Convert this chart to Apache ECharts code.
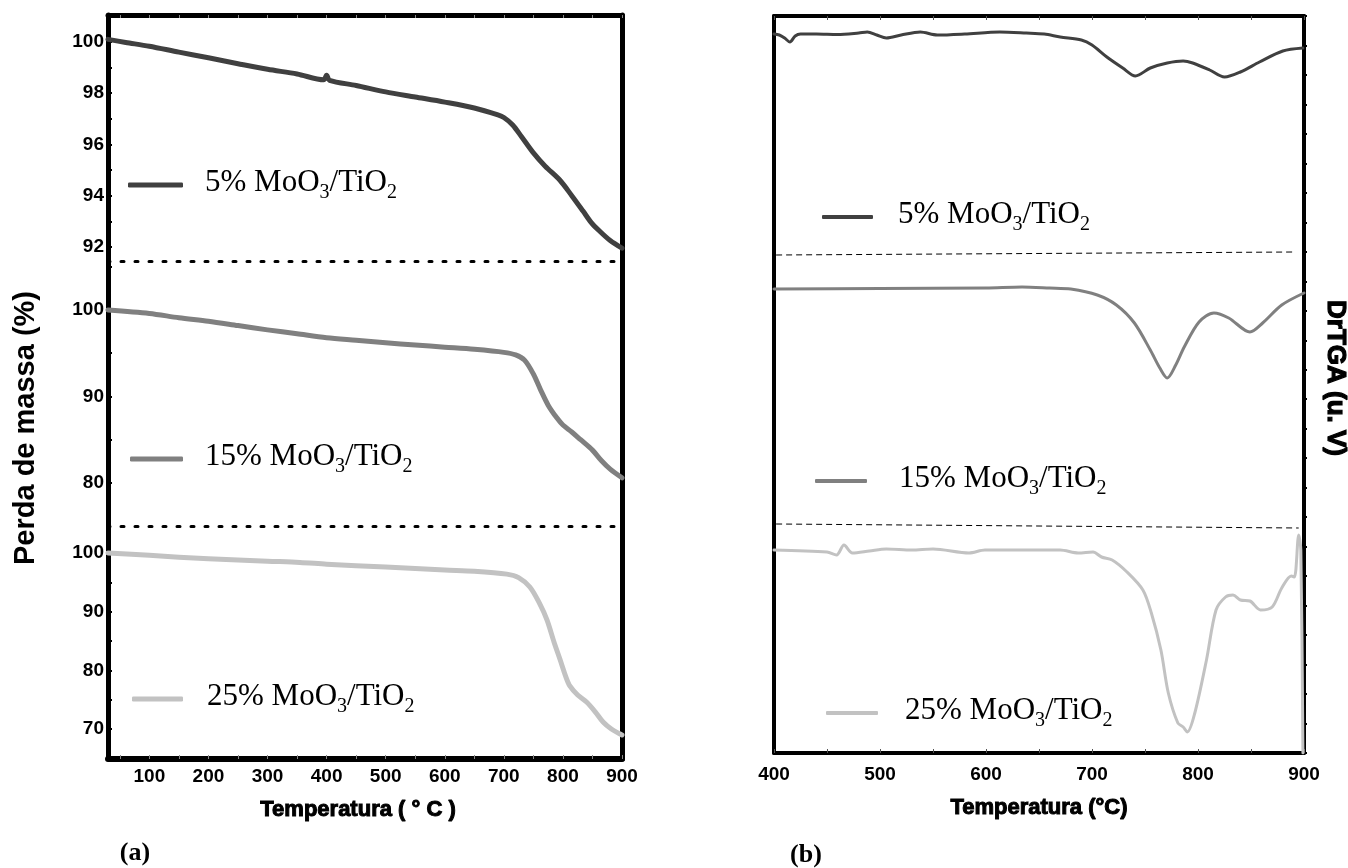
<!DOCTYPE html>
<html>
<head>
<meta charset="utf-8">
<script src="https://cdn.jsdelivr.net/npm/echarts@6/dist/echarts.min.js"></script>
<style>
html, body { margin: 0; padding: 0; background: #fff; }
#chart { width: 1348px; height: 868px; }
</style>
</head>
<body>
<div id="chart"></div>
<script>
// ---- TG curves: mass (%) vs temperature (°C) ----
const tgTemp5 = [30, 60, 100, 150, 200, 250, 300, 350, 395, 400, 405, 450, 500, 550, 600, 650, 690, 700, 715, 730, 749, 770, 795, 815, 834, 848, 862, 880, 900];
const tgMass5 = [100.1, 99.98, 99.83, 99.6, 99.38, 99.15, 98.93, 98.75, 98.52, 98.7, 98.5, 98.3, 98.05, 97.85, 97.65, 97.42, 97.15, 97.05, 96.76, 96.3, 95.7, 95.15, 94.6, 94.0, 93.4, 92.95, 92.62, 92.25, 91.95];

const tgTemp15 = [30, 100, 150, 200, 250, 300, 350, 400, 450, 500, 550, 600, 650, 700, 720, 735, 750, 762, 775, 790, 800, 815, 830, 850, 865, 880, 900];
const tgMass15 = [100.0, 99.6, 99.1, 98.7, 98.2, 97.7, 97.25, 96.8, 96.5, 96.2, 95.95, 95.7, 95.45, 95.1, 94.8, 94.2, 92.6, 90.8, 89.0, 87.5, 86.7, 85.9, 85.0, 83.8, 82.6, 81.6, 80.6];

const tgTemp25 = [30, 100, 200, 300, 355, 400, 500, 600, 650, 705, 725, 744, 760, 773, 785, 795, 805, 812, 825, 840, 855, 868, 882, 896, 900];
const tgMass25 = [100.0, 99.6, 99.0, 98.6, 98.4, 98.1, 97.6, 97.1, 96.9, 96.4, 95.8, 94.2, 91.5, 88.6, 84.8, 81.9, 78.9, 77.3, 75.8, 74.6, 72.9, 71.2, 70.0, 69.2, 69.0];

// ---- DrTGA curves (arbitrary units, baseline 0) ----
const dtTemp5 = [400, 405, 410, 415, 420, 425, 440, 460, 480, 488, 497, 506, 520, 538, 554, 580, 613, 638, 655, 670, 690, 700, 714, 729, 741, 755, 771, 786, 795, 811, 825, 840, 858, 880, 899];
const dtVal5 = [0.0, -0.1, -0.4, -0.8, -0.2, 0.0, 0.0, -0.05, 0.1, 0.2, -0.1, -0.4, -0.1, 0.2, -0.1, 0.0, 0.2, 0.1, 0.0, -0.3, -0.6, -1.1, -2.3, -3.4, -4.2, -3.4, -2.9, -2.7, -2.9, -3.6, -4.3, -3.8, -2.8, -1.7, -1.4];

const dtTemp15 = [400, 500, 600, 634, 660, 680, 705, 723, 740, 755, 764, 771, 779, 787, 801, 815, 829, 849, 861, 879, 900];
const dtVal15 = [0.0, 0.05, 0.1, 0.2, 0.1, 0.0, -0.6, -1.6, -3.4, -6.1, -7.9, -8.9, -7.6, -5.8, -3.3, -2.4, -2.9, -4.3, -3.4, -1.6, -0.4];

const dtTemp25 = [400, 450, 459, 466, 474, 490, 506, 530, 550, 584, 599, 630, 670, 687, 701, 709, 719, 733, 748, 756, 765, 772, 781, 786, 790, 797, 808, 817, 826, 833, 840, 849, 859, 870, 879, 888, 891, 895, 897, 899];
const dtVal25 = [0.0, -0.2, -0.5, 0.5, -0.3, -0.1, 0.1, 0.0, 0.1, -0.3, 0.0, 0.0, 0.0, -0.3, -0.2, -0.7, -1.0, -2.2, -4.0, -6.3, -10.0, -14.3, -17.3, -17.7, -18.2, -16.3, -11.0, -6.0, -4.7, -4.5, -5.0, -5.1, -6.0, -5.7, -3.8, -2.6, -2.7, 1.5, 0.0, -20.3];

// ---- axis ticks and labels ----
const tgTempLabels = [100, 200, 300, 400, 500, 600, 700, 800, 900];
const tgTempTicks = [50, 100, 150, 200, 250, 300, 350, 400, 450, 500, 550, 600, 650, 700, 750, 800, 850, 900];
const dtTempLabels = [400, 500, 600, 700, 800, 900];
const dtTempTicks = [400, 450, 500, 550, 600, 650, 700, 750, 800, 850, 900];
const massLabels5 = [92, 94, 96, 98, 100];
const massTicks5 = [92, 93, 94, 95, 96, 97, 98, 99, 100, 101];
const massLabels15 = [80, 90, 100];
const massTicks15 = [80, 85, 90, 95, 100, 105];
const massLabels25 = [70, 80, 90, 100];
const massTicks25 = [70, 75, 80, 85, 90, 95, 100];

const seriesNames = ['5% MoO3/TiO2', '15% MoO3/TiO2', '25% MoO3/TiO2'];
const colors = ['#404040', '#808080', '#c2c2c2'];

const pairs = (xs, ys) => xs.map((x, i) => [x, ys[i]]);

const BLACK = '#000';
const tickFont = { color: BLACK, fontFamily: 'Liberation Sans', fontWeight: 'bold', fontSize: 19 };
const heavyFont = { color: BLACK, fontFamily: 'Liberation Sans', fontWeight: 'bold', fontSize: 22, textBorderColor: BLACK, textBorderWidth: 1 };

const noAxisParts = { axisTick: { show: false }, axisLabel: { show: false }, splitLine: { show: false } };

function frameLine(width) {
  return { show: true, onZero: false, lineStyle: { color: BLACK, width: width } };
}

function legendFor(name, left, top, iconW, iconH, gap) {
  return {
    data: [name], left: left, top: top, padding: 0, orient: 'horizontal',
    selectedMode: false, icon: 'roundRect', itemWidth: iconW, itemHeight: iconH,
    formatter: n => '{g|}{n|' + n.split(' ')[0] + ' MoO}{s|3}{n|/TiO}{s|2}',
    textStyle: {
      rich: {
        g: { width: gap, lineHeight: 36 },
        n: { fontFamily: 'Liberation Serif', fontSize: 31, lineHeight: 34, verticalAlign: 'top', color: BLACK },
        s: { fontFamily: 'Liberation Serif', fontSize: 20, verticalAlign: 'bottom', color: BLACK }
      }
    }
  };
}

const grids = [
  { left: 108, top: 15, width: 514, height: 744 },   // frame (a)
  { left: 108, top: 15, width: 514, height: 246 },   // 5% TG
  { left: 108, top: 261, width: 514, height: 265 },  // 15% TG
  { left: 108, top: 526, width: 514, height: 233 },  // 25% TG
  { left: 774, top: 16, width: 530, height: 737 },   // frame (b)
  { left: 774, top: 16, width: 530, height: 244 },   // 5% DrTGA
  { left: 774, top: 260, width: 530, height: 272 },  // 15% DrTGA
  { left: 774, top: 532, width: 530, height: 221 }   // 25% DrTGA
].map(g => Object.assign({ outerBoundsMode: 'none', containLabel: false }, g));

const dottedSep = { show: true, onZero: false, lineStyle: { color: BLACK, width: 3, type: [3, 11], dashOffset: -13 } };

const xAxes = [
  { gridIndex: 0, type: 'value', min: 30, max: 900, position: 'bottom',
    axisLine: frameLine(6),
    axisTick: { show: true, inside: true, length: 4, customValues: tgTempTicks, lineStyle: { color: '#888', width: 1 } },
    axisLabel: Object.assign({ margin: 8, customValues: tgTempLabels }, tickFont),
    splitLine: { show: false },
    name: 'Temperatura ( ° C )', nameLocation: 'middle', nameGap: 40,
    nameTextStyle: Object.assign({ padding: [0, 14, 0, 0] }, heavyFont) },
  { gridIndex: 0, type: 'value', min: 30, max: 900, position: 'top',
    axisLine: frameLine(5),
    axisTick: { show: true, inside: true, length: 3, customValues: tgTempTicks, lineStyle: { color: '#888', width: 1 } },
    axisLabel: { show: false }, splitLine: { show: false } },
  Object.assign({ gridIndex: 1, type: 'value', min: 30, max: 900, position: 'bottom', axisLine: dottedSep }, noAxisParts),
  Object.assign({ gridIndex: 2, type: 'value', min: 30, max: 900, position: 'bottom', axisLine: dottedSep }, noAxisParts),
  { gridIndex: 3, type: 'value', min: 30, max: 900, show: false },
  { gridIndex: 4, type: 'value', min: 400, max: 900, position: 'bottom',
    axisLine: frameLine(4),
    axisTick: { show: true, inside: true, length: 4, customValues: dtTempTicks, lineStyle: { color: '#555', width: 1 } },
    axisLabel: Object.assign({ margin: 12, customValues: dtTempLabels }, tickFont),
    splitLine: { show: false },
    name: 'Temperatura (°C)', nameLocation: 'middle', nameGap: 44, nameTextStyle: heavyFont },
  { gridIndex: 4, type: 'value', min: 400, max: 900, position: 'top',
    axisLine: frameLine(4),
    axisTick: { show: true, inside: true, length: 4, customValues: dtTempTicks, lineStyle: { color: '#555', width: 1 } },
    axisLabel: { show: false }, splitLine: { show: false } },
  { gridIndex: 5, type: 'value', min: 400, max: 900, show: false },
  { gridIndex: 6, type: 'value', min: 400, max: 900, show: false },
  { gridIndex: 7, type: 'value', min: 400, max: 900, show: false }
];

function massAxis(grid, min, max, labels, ticks) {
  return { gridIndex: grid, type: 'value', min: min, max: max, position: 'left',
    axisLine: { show: false },
    axisTick: { show: true, inside: true, length: 4, customValues: ticks, lineStyle: { color: BLACK, width: 2 } },
    axisLabel: Object.assign({ margin: 4, customValues: labels }, tickFont),
    splitLine: { show: false } };
}

const yAxes = [
  Object.assign({ gridIndex: 0, type: 'value', min: 0, max: 1, position: 'left', axisLine: frameLine(5) }, noAxisParts),
  Object.assign({ gridIndex: 0, type: 'value', min: 0, max: 1, position: 'right', axisLine: frameLine(5) }, noAxisParts),
  massAxis(1, 91.45, 101.05, massLabels5, massTicks5),
  massAxis(2, 75.03, 105.66, massLabels15, massTicks15),
  massAxis(3, 64.9, 104.6, massLabels25, massTicks25),
  Object.assign({ gridIndex: 4, type: 'value', min: 0, max: 1, position: 'left', axisLine: frameLine(4) }, noAxisParts),
  { gridIndex: 4, type: 'value', min: 0, max: 25, interval: 1, position: 'right',
    axisLine: frameLine(4),
    axisTick: { show: true, inside: false, length: 3, lineStyle: { color: BLACK, width: 2 } },
    axisLabel: { show: false }, splitLine: { show: false } },
  { gridIndex: 5, type: 'value', min: -22.6, max: 1.8, show: false },
  { gridIndex: 6, type: 'value', min: -24.3, max: 2.9, show: false },
  { gridIndex: 7, type: 'value', min: -20.3, max: 1.8, show: false }
];

function curve(nameIdx, xi, yi, data, width, extra) {
  return Object.assign({
    name: seriesNames[nameIdx], type: 'line', xAxisIndex: xi, yAxisIndex: yi,
    data: data, showSymbol: false, smooth: 0.3, silent: true,
    lineStyle: { width: width, color: colors[nameIdx], cap: 'round', join: 'round' },
    itemStyle: { color: colors[nameIdx] }, z: 3
  }, extra || {});
}

function dashedSep(a, b) {
  return { markLine: { silent: true, symbol: 'none', label: { show: false },
    lineStyle: { color: BLACK, width: 1, type: [6, 4] },
    data: [[{ coord: a }, { coord: b }]] } };
}

const series = [
  curve(0, 2, 2, pairs(tgTemp5, tgMass5), 5),
  curve(1, 3, 3, pairs(tgTemp15, tgMass15), 5),
  curve(2, 4, 4, pairs(tgTemp25, tgMass25), 5),
  curve(0, 7, 7, pairs(dtTemp5, dtVal5), 3, dashedSep([402, -22.1], [891, -21.8])),
  curve(1, 8, 8, pairs(dtTemp15, dtVal15), 3, dashedSep([402, -23.5], [895, -23.9])),
  curve(2, 9, 9, pairs(dtTemp25, dtVal25), 3)
];

const legends = [
  legendFor(seriesNames[0], 128, 167, 55, 5, 17),
  legendFor(seriesNames[1], 130, 441, 53, 5, 17),
  legendFor(seriesNames[2], 132, 681, 51, 5, 19),
  legendFor(seriesNames[0], 822, 199, 51, 4, 20),
  legendFor(seriesNames[1], 815, 463, 52, 4, 27),
  legendFor(seriesNames[2], 826, 695, 52, 4, 22)
];

const graphics = [
  { type: 'text', x: 26, y: 428, rotation: Math.PI / 2,
    style: { text: 'Perda de massa (%)', align: 'center', verticalAlign: 'middle',
      fontFamily: 'Liberation Sans', fontWeight: 'bold', fontSize: 29, fill: BLACK } },
  { type: 'text', x: 1335, y: 378, rotation: -Math.PI / 2,
    style: { text: 'DrTGA (u. V)', align: 'center', verticalAlign: 'middle',
      fontFamily: 'Liberation Sans', fontWeight: 'bold', fontSize: 26, fill: BLACK, stroke: BLACK, lineWidth: 1.2 } },
  { type: 'text', x: 135, y: 853,
    style: { text: '(a)', align: 'center', verticalAlign: 'middle',
      fontFamily: 'Liberation Serif', fontWeight: 'bold', fontSize: 26, fill: BLACK } },
  { type: 'text', x: 806, y: 855,
    style: { text: '(b)', align: 'center', verticalAlign: 'middle',
      fontFamily: 'Liberation Serif', fontWeight: 'bold', fontSize: 26, fill: BLACK } }
];

const chart = echarts.init(document.getElementById('chart'), null, { renderer: 'canvas' });
chart.setOption({
  animation: false,
  backgroundColor: '#fff',
  grid: grids,
  xAxis: xAxes,
  yAxis: yAxes,
  legend: legends,
  graphic: graphics,
  series: series
});
</script>
</body>
</html>
